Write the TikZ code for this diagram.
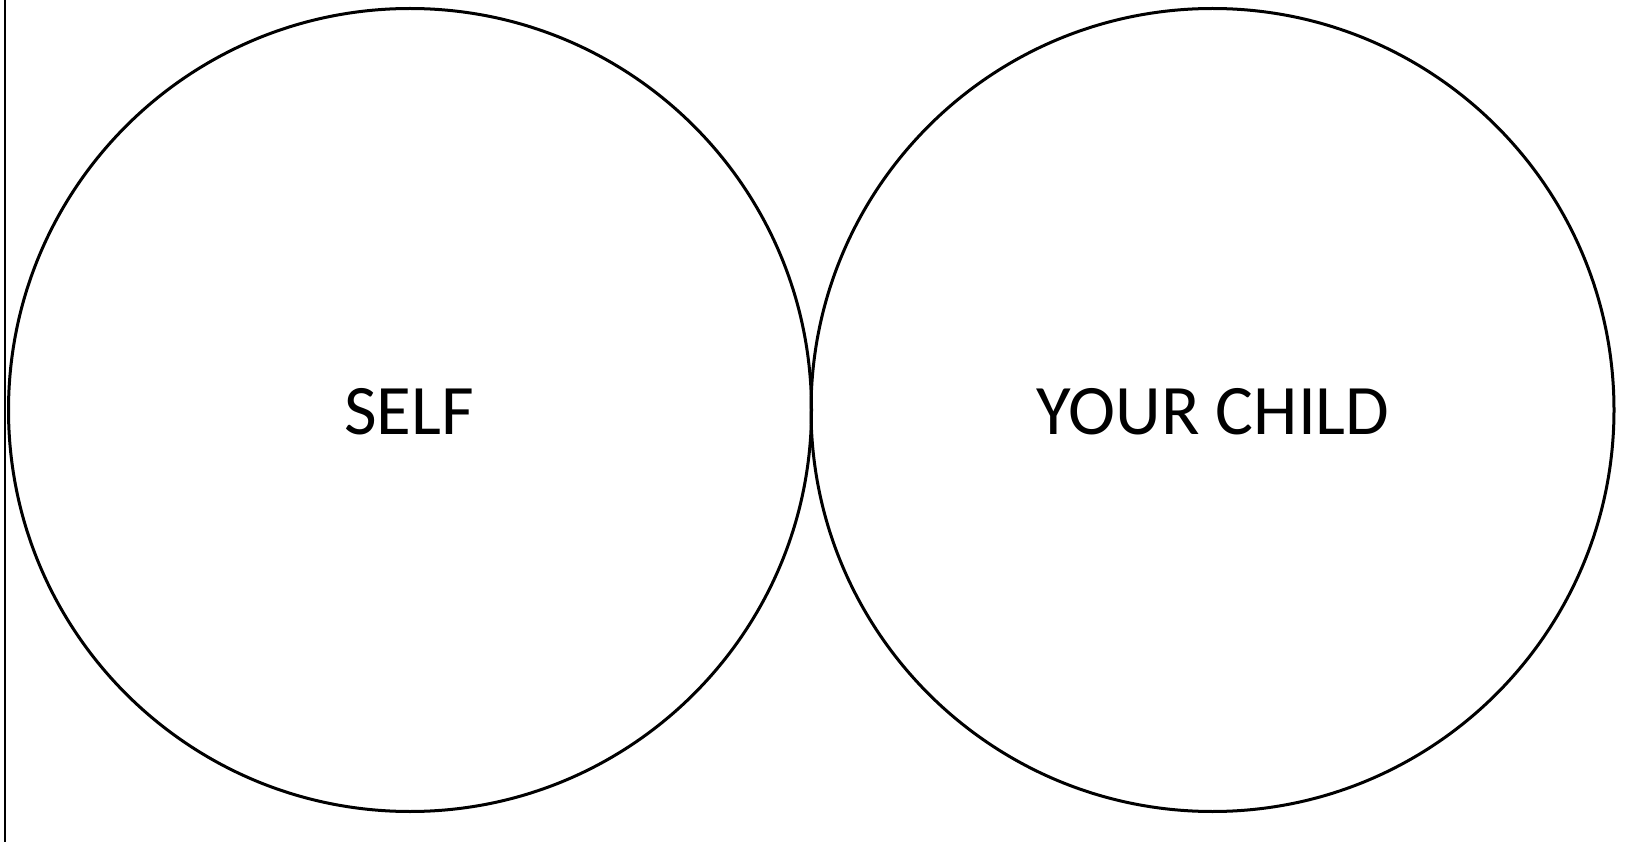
\documentclass[tikz,border=0pt]{standalone}
\usepackage{fontspec}
\setmainfont{Carlito}
\begin{document}
\begin{tikzpicture}[x=1pt,y=-1pt,
  ring/.style={circle,draw=black,line width=3pt,minimum size=803pt,inner sep=0pt},
  lbl/.style={font=\fontsize{71}{80}\selectfont,text=black}]
\useasboundingbox (0,0) rectangle (1626,842);
\fill[white] (0,0) rectangle (1626,842);
\draw[line width=2pt] (4.5,0) -- (4.5,842);
\node[ring] (self) at (410,410) {};
\node[ring] (child) at (1212.5,410) {};
\node[lbl] at (409,412) {SELF};
\node[lbl] at (1213,412) {YOUR CHILD};
\end{tikzpicture}
\end{document}
